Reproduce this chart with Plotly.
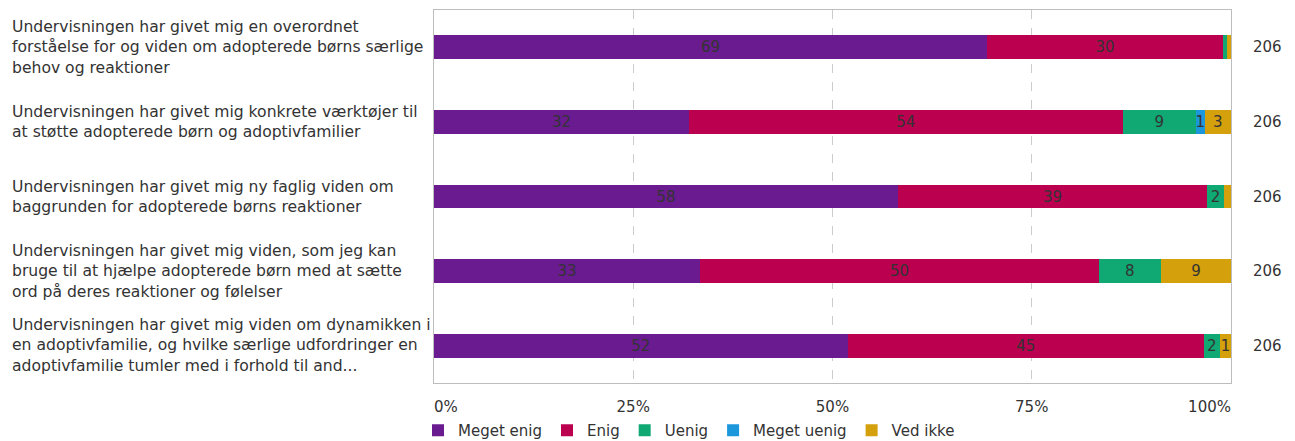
import plotly.graph_objects as go

categories = [
    "Undervisningen har givet mig en overordnet<br>forståelse for og viden om adopterede børns særlige<br>behov og reaktioner",
    "Undervisningen har givet mig konkrete værktøjer til<br>at støtte adopterede børn og adoptivfamilier",
    "Undervisningen har givet mig ny faglig viden om<br>baggrunden for adopterede børns reaktioner",
    "Undervisningen har givet mig viden, som jeg kan<br>bruge til at hjælpe adopterede børn med at sætte<br>ord på deres reaktioner og følelser",
    "Undervisningen har givet mig viden om dynamikken i<br>en adoptivfamilie, og hvilke særlige udfordringer en<br>adoptivfamilie tumler med i forhold til and...",
]
counts = [206, 206, 206, 206, 206]

series_names = ["Meget enig", "Enig", "Uenig", "Meget uenig", "Ved ikke"]
meget_enig = [69.4, 32.0, 58.2, 33.4, 51.9]
enig = [29.6, 54.4, 38.8, 50.0, 44.7]
uenig = [0.5, 9.2, 2.1, 7.8, 2.0]
meget_uenig = [0.0, 1.1, 0.0, 0.0, 0.0]
ved_ikke = [0.5, 3.3, 0.9, 8.8, 1.4]
series_values = [meget_enig, enig, uenig, meget_uenig, ved_ikke]
colors = ["#6a1b8f", "#bb0050", "#10a873", "#1c97dc", "#d4a10c"]

tick_vals = [0, 25, 50, 75, 100]
tick_text = ["\u00a0" * 5 + "0%", "25%", "50%", "75%", "100%" + "\u00a0" * 9]

W, H = 1295, 441
ml, mr, mt, mb = 434, 64, 10, 58
pw = W - ml - mr
ph = H - mt - mb
FS = 15

ids = list(range(len(categories)))
fig = go.Figure()
for name, vals, col in zip(series_names, series_values, colors):
    fig.add_trace(go.Bar(
        y=ids, x=vals, name=name, orientation="h",
        marker=dict(color=col, line=dict(width=0)),
        text=[f"{round(v):d}" if v >= 1 else "" for v in vals],
        textposition="inside", insidetextanchor="middle",
        textangle=0,
        textfont=dict(color="#333333", size=FS),
        cliponaxis=False,
    ))

for i, (cat, n) in enumerate(zip(categories, counts)):
    fig.add_annotation(x=(10 - ml) / pw, xref="paper", y=i, yref="y",
                       text=cat, showarrow=False, xanchor="left", align="left",
                       font=dict(size=15.6, color="#333333"))
    fig.add_annotation(x=1 + 20 / pw, xref="paper", y=i, yref="y",
                       text=str(n), showarrow=False, xanchor="left",
                       font=dict(size=FS, color="#333333"))

fig.update_layout(
    width=W, height=H, barmode="stack", bargap=0.68,
    margin=dict(l=ml, r=mr, t=mt, b=mb, autoexpand=False),
    paper_bgcolor="white", plot_bgcolor="white",
    font=dict(family="DejaVu Sans", size=FS, color="#333333"),
    uniformtext=dict(minsize=FS, mode="show"),
    showlegend=True,
    legend=dict(orientation="h", x=-16 / pw, xanchor="left", y=-(31 / ph), yanchor="top",
                font=dict(size=FS), itemwidth=30, tracegroupgap=0,
                traceorder="normal"),
)
fig.update_xaxes(range=[0, 100], tickvals=tick_vals, ticktext=tick_text,
                 showgrid=True, gridcolor="#cccccc", griddash="dash",
                 showline=True, linecolor="#bdbdbd", linewidth=1, mirror=True,
                 zeroline=False, ticks="", ticklabelstandoff=10, automargin=False,
                 tickfont=dict(size=FS, color="#333333"))
fig.update_yaxes(range=[4.5, -0.5], showticklabels=False, showgrid=False,
                 showline=True, linecolor="#bdbdbd", linewidth=1, mirror=True,
                 zeroline=False, ticks="", automargin=False)

fig.write_html("out.html", config={"displayModeBar": False},
               post_script="document.body.style.margin='0';")
